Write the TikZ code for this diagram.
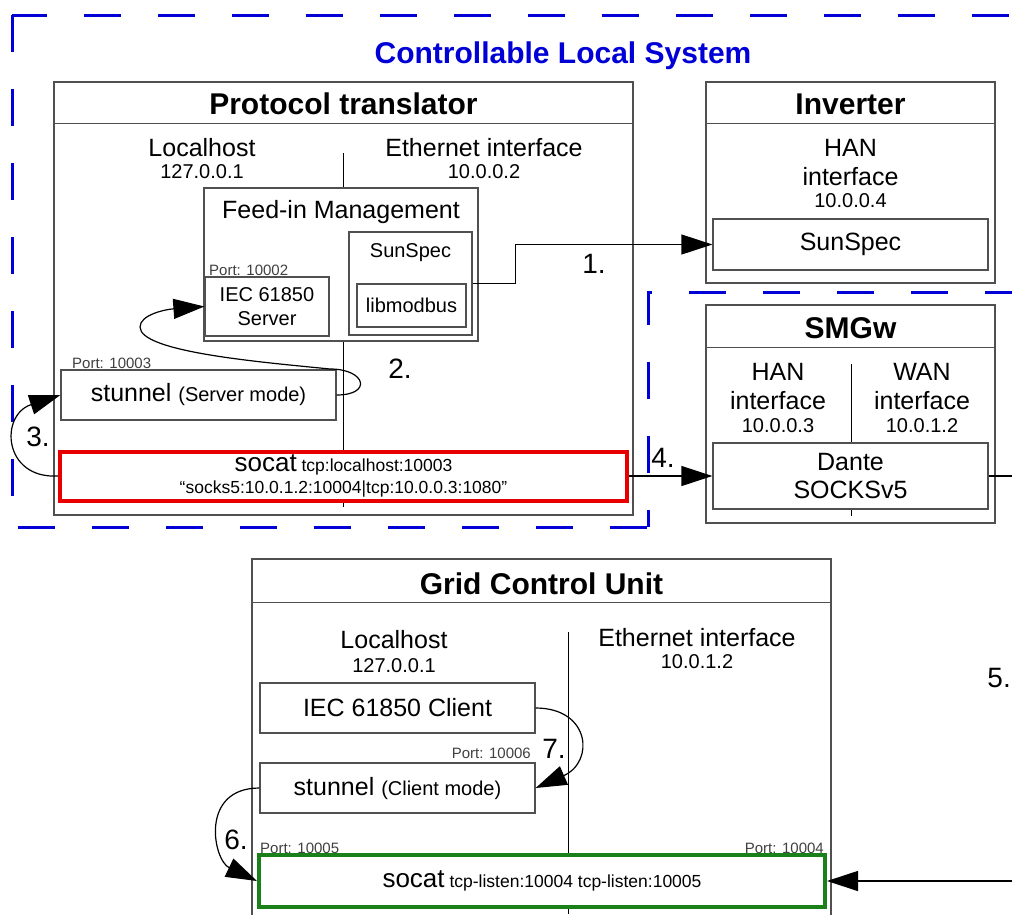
\documentclass[tikz,border=0pt]{standalone}
\usepackage{fontspec}
\setmainfont{Liberation Sans}
\usetikzlibrary{arrows.meta}
\definecolor{cls_blue}{RGB}{0,0,214}
\definecolor{sc_red}{RGB}{232,0,0}
\definecolor{sc_green}{RGB}{26,128,26}
\definecolor{bx_gray}{RGB}{80,80,80}
\tikzstyle{frame}=[draw=cls_blue,line width=3pt,dash pattern=on 37pt off 37pt]
\tikzstyle{cls}=[text=cls_blue,font=\bfseries\fontsize{30}{34}\selectfont,inner sep=1pt]
\tikzstyle{dev}=[rectangle,draw=bx_gray,line width=1.4pt,fill=white,inner sep=0pt]
\tikzstyle{sep}=[draw=bx_gray,line width=1.4pt]
\tikzstyle{div}=[draw=black,line width=1pt]
\tikzstyle{sw}=[rectangle,draw=bx_gray,line width=1.2pt,fill=white,inner sep=0pt,
  align=center,font=\fontsize{25}{28}\selectfont]
\tikzstyle{swred}=[rectangle,draw=sc_red,line width=4pt,fill=white,inner sep=0pt,
  align=center,font=\fontsize{17.5}{22}\selectfont]
\tikzstyle{swgreen}=[rectangle,draw=sc_green,line width=4pt,fill=white,inner sep=0pt,
  align=center,font=\fontsize{17.5}{22}\selectfont]
\tikzstyle{ttl}=[font=\bfseries\fontsize{30}{34}\selectfont,inner sep=1pt]
\tikzstyle{txt}=[font=\fontsize{25}{28}\selectfont,inner sep=1pt]
\tikzstyle{ip}=[font=\fontsize{20}{24}\selectfont,inner sep=1pt]
\tikzstyle{port}=[font=\fontsize{15}{17}\selectfont,text=black!75,inner sep=0pt]
\tikzstyle{num}=[font=\fontsize{28}{30}\selectfont,inner sep=1pt]
\tikzstyle{link}=[draw=black,line width=1.2pt]
\tikzstyle{flow}=[draw=black,line width=1.2pt,-{Triangle[length=31pt,width=20pt]}]
\newcommand{\cmdname}[1]{{\fontsize{26}{28}\selectfont #1}}

\begin{document}
\begin{tikzpicture}[x=1pt,y=-1pt]
    \useasboundingbox (0,0) rectangle (1012,914);
    \clip (0,0) rectangle (1012,914);
    % controllable local system
    \draw [style=frame,dash phase=2pt] (12,15) -- (1012,15);
    \draw [style=frame] (12,15) -- (12,527) -- (648,527);
    \draw [style=frame,dash phase=20pt] (648,527) -- (648,292) -- (1012,292);
    \node [style=cls] (cls) at (563,56) {Controllable Local System};

    % devices
    \node [style=dev,minimum width=579pt,minimum height=433pt] (pt) at (343.5,298.5) {};
    \node [style=dev,minimum width=289pt,minimum height=201pt] (inv) at (850.5,182.5) {};
    \node [style=dev,minimum width=289pt,minimum height=218pt] (smgw) at (850.5,414) {};
    \node [style=dev,minimum width=579pt,minimum height=381pt] (gcu) at (541.5,749.5) {};
    \draw [style=sep] ([yshift=-42pt]pt.north west) -- ([yshift=-42pt]pt.north east);
    \draw [style=sep] ([yshift=-42pt]inv.north west) -- ([yshift=-42pt]inv.north east);
    \draw [style=sep] ([yshift=-43pt]smgw.north west) -- ([yshift=-43pt]smgw.north east);
    \draw [style=sep] ([yshift=-44pt]gcu.north west) -- ([yshift=-44pt]gcu.north east);
    \node [style=ttl] (ptT) at (343.5,104) {Protocol translator};
    \node [style=ttl] (invT) at (850.5,104) {Inverter};
    \node [style=ttl] (smgwT) at (850.5,328) {SMGw};
    \node [style=ttl] (gcuT) at (541.5,584) {Grid Control Unit};

    % interfaces
    \draw [style=div] (343,153) -- (343,507);
    \draw [style=div] (851,364) -- (851,516);
    \draw [style=div] (568,632) -- (568,914);
    \node [style=txt] (ptLh) at (202,148) {Localhost};
    \node [style=ip] (ptLip) at (202,172) {127.0.0.1};
    \node [style=txt] (ptEth) at (484,148) {Ethernet interface};
    \node [style=ip] (ptEip) at (484,172) {10.0.0.2};
    \node [style=txt] (invHan) at (850.5,148) {HAN};
    \node [style=txt] (invIf) at (850.5,177) {interface};
    \node [style=ip] (invIp) at (850.5,201) {10.0.0.4};
    \node [style=txt] (smHan) at (778,372) {HAN};
    \node [style=txt] (smHif) at (778,401) {interface};
    \node [style=ip] (smHip) at (778,426) {10.0.0.3};
    \node [style=txt] (smWan) at (922,372) {WAN};
    \node [style=txt] (smWif) at (922,401) {interface};
    \node [style=ip] (smWip) at (922,426) {10.0.1.2};
    \node [style=txt] (gcuLh) at (394,640) {Localhost};
    \node [style=ip] (gcuLip) at (394,666) {127.0.0.1};
    \node [style=txt] (gcuEth) at (697,638) {Ethernet interface};
    \node [style=ip] (gcuEip) at (697,662) {10.0.1.2};

    % software
    \node [style=sw,minimum width=274pt,minimum height=153pt] (fim) at (341,264.5) {};
    \node [style=txt] (fimT) at (341,212) {Feed-in Management};
    \node [style=sw,minimum width=123pt,minimum height=103pt] (ssPT) at (410.5,283.5) {};
    \node [style=ip] (ssPTT) at (410.5,253) {SunSpec};
    \node [style=sw,minimum width=109pt,minimum height=43pt,font=\fontsize{20}{24}\selectfont]
      (lmb) at (411.5,305.5) {libmodbus};
    \node [style=sw,minimum width=124pt,minimum height=59pt,font=\fontsize{20}{24}\selectfont]
      (iecS) at (267,306.5) {IEC 61850\\Server};
    \node [style=port,anchor=west] (pIecS) at (209,270) {Port: 10002};
    \node [style=sw,minimum width=275pt,minimum height=50pt] (srv) at (198.5,395)
      {stunnel {\fontsize{20}{24}\selectfont (Server mode)}};
    \node [style=port,anchor=west] (pSrv) at (72,363) {Port: 10003};
    \node [style=swred,minimum width=567pt,minimum height=49pt] (scA) at (343.5,476)
      {\cmdname{socat} tcp:localhost:10003\\“socks5:10.0.1.2:10004|tcp:10.0.0.3:1080”};
    \node [style=sw,minimum width=275pt,minimum height=51pt] (ssInv) at (850.5,244.5) {SunSpec};
    \node [style=sw,minimum width=275pt,minimum height=66pt,font=\fontsize{25}{28}\selectfont]
      (dante) at (850.5,476) {Dante\\SOCKSv5};
    \node [style=sw,minimum width=275pt,minimum height=50pt] (iecC) at (397.5,708) {IEC 61850 Client};
    \node [style=port,anchor=east] (pIecC) at (531,753) {Port: 10006};
    \node [style=sw,minimum width=275pt,minimum height=50pt] (stC) at (397.5,788)
      {stunnel {\fontsize{20}{24}\selectfont (Client mode)}};
    \node [style=port,anchor=west] (pScB) at (260,848) {Port: 10005};
    \node [style=port,anchor=east] (pGcu) at (824,848) {Port: 10004};
    \node [style=swgreen,minimum width=566pt,minimum height=52pt] (scB) at (542,881)
      {\cmdname{socat} tcp-listen:10004 tcp-listen:10005};

    % connections
    \coordinate (c2a) at (330,369);
    \coordinate (c2b) at (140,327);
    \coordinate (wanR) at (1020,476);
    \coordinate (gcuR) at (1020,881);
    \draw [style=flow] (ssPT.east) -- ++(43,0) |- (ssInv.west);
    \draw [style=flow] (srv.east) .. controls +(36,0) and +(36,0) .. (c2a)
      .. controls +(-70,-7) and +(0,25) .. (c2b)
      .. controls +(0,-12) and +(-40,3) .. (iecS.west);
    \draw [style=flow] (scA.west) .. controls +(-55,3) and +(-61,20) .. (srv.west);
    \draw [style=flow] (scA.east) -- (scA.east -| dante.west);
    \draw [style=link] (dante.east) -- (wanR);
    \draw [style=flow] (gcuR) -- (scB.east);
    \draw [style=flow] (stC.west) .. controls +(-60,0) and +(-44,-21) .. (scB.west);
    \draw [style=flow] (iecC.east) .. controls +(55,0) and +(59,-26) .. (stC.east);
    \node [style=num] (n1) at (594,264) {1.};
    \node [style=num] (n2) at (400,369) {2.};
    \node [style=num] (n3) at (38,437) {3.};
    \node [style=num] (n4) at (663,458) {4.};
    \node [style=num,anchor=east] (n5) at (1012,678) {5.};
    \node [style=num] (n6) at (236,840) {6.};
    \node [style=num] (n7) at (554,749) {7.};
\end{tikzpicture}
\end{document}
